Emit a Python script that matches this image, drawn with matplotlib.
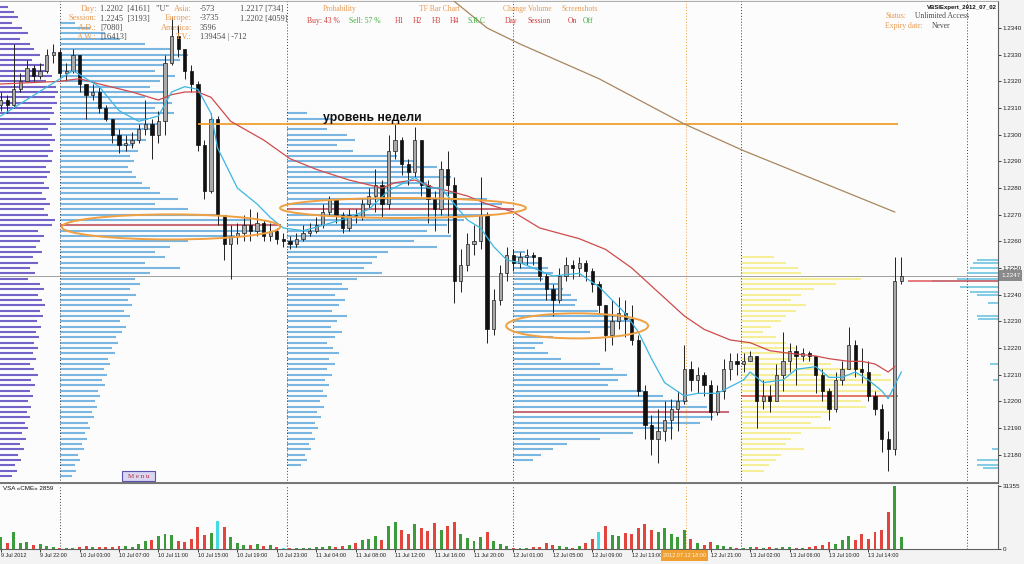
import matplotlib.pyplot as plt
import numpy as np
from matplotlib.patches import Ellipse, Rectangle

plt.rcParams['font.family'] = ['Liberation Sans', 'DejaVu Sans']

W, H = 1024, 564
BW = 6.574  # screen px per bar

# EURUSD candles (open = previous close)
first_open = 1.2311
closes = [1.2313, 1.2311, 1.2317, 1.2320, 1.2325, 1.2322, 1.2324, 1.2330, 1.2331, 1.2323,
          1.2324, 1.2330, 1.2319, 1.2315, 1.2316, 1.2310, 1.2306, 1.2300, 1.2296, 1.2297,
          1.2298, 1.2302, 1.2304, 1.2300, 1.2305, 1.2327, 1.2337, 1.2332, 1.2324, 1.2319,
          1.2296, 1.2279, 1.2306, 1.2270, 1.2259, 1.2262, 1.2263, 1.2266, 1.2264, 1.2267,
          1.2262, 1.2264, 1.2261, 1.2260, 1.2259, 1.2261, 1.2263, 1.2264, 1.2266, 1.2271,
          1.2276, 1.2270, 1.2265, 1.2270, 1.2269, 1.2274, 1.2277, 1.2281, 1.2274, 1.2294,
          1.2298, 1.2289, 1.2286, 1.2298, 1.2281, 1.2276, 1.2272, 1.2287, 1.2281, 1.2245,
          1.2251, 1.2259, 1.2260, 1.2270, 1.2227, 1.2238, 1.2248, 1.2255, 1.2252, 1.2254,
          1.2255, 1.2254, 1.2247, 1.2242, 1.2238, 1.2247, 1.2251, 1.2250, 1.2252, 1.2249,
          1.2244, 1.2236, 1.2225, 1.2230, 1.2233, 1.2231, 1.2223, 1.2204, 1.2191, 1.2186,
          1.2189, 1.2193, 1.2197, 1.2200, 1.2212, 1.2208, 1.2210, 1.2206, 1.2196, 1.2204,
          1.2212, 1.2215, 1.2214, 1.2215, 1.2217, 1.2200, 1.2202, 1.2200, 1.2210, 1.2215,
          1.2219, 1.2217, 1.2218, 1.2217, 1.2210, 1.2204, 1.2197, 1.2208, 1.2212, 1.2221,
          1.2212, 1.2211, 1.2202, 1.2197, 1.2186, 1.2182, 1.2245, 1.2247]
highs = [1.2316, 1.2315, 1.2334, 1.2323, 1.2328, 1.2326, 1.2327, 1.2332, 1.2334, 1.2332,
         1.2327, 1.2332, 1.2330, 1.2319, 1.2319, 1.2318, 1.2311, 1.2306, 1.2302, 1.2300,
         1.2301, 1.2304, 1.2313, 1.2306, 1.2309, 1.2330, 1.2344, 1.2341, 1.2332, 1.2326,
         1.2320, 1.2298, 1.2308, 1.2307, 1.2270, 1.2266, 1.2267, 1.2270, 1.2272, 1.2271,
         1.2268, 1.2267, 1.2265, 1.2263, 1.2262, 1.2263, 1.2266, 1.2267, 1.2269, 1.2274,
         1.2277, 1.2276, 1.2271, 1.2272, 1.2272, 1.2276, 1.2280, 1.2287, 1.2283, 1.2300,
         1.2304, 1.2299, 1.2291, 1.2303, 1.2298, 1.2283, 1.2279, 1.2290, 1.2294, 1.2284,
         1.2257, 1.2263, 1.2266, 1.2284, 1.2271, 1.2242, 1.2251, 1.2258, 1.2257, 1.2256,
         1.2257, 1.2256, 1.2254, 1.2248, 1.2244, 1.2250, 1.2254, 1.2253, 1.2254, 1.2253,
         1.2250, 1.2245, 1.2236, 1.2238, 1.2239, 1.2238, 1.2236, 1.2225, 1.2206, 1.2195,
         1.2197, 1.2200, 1.2201, 1.2204, 1.2221, 1.2215, 1.2213, 1.2211, 1.2208, 1.2206,
         1.2216, 1.2218, 1.2218, 1.2218, 1.2219, 1.2217, 1.2208, 1.2206, 1.2214, 1.2226,
         1.2222, 1.2221, 1.2220, 1.2219, 1.2217, 1.2212, 1.2205, 1.2211, 1.2215, 1.2228,
         1.2223, 1.2220, 1.2215, 1.2204, 1.2199, 1.2189, 1.2254, 1.2254]
lows = [1.2309, 1.2308, 1.2310, 1.2316, 1.2320, 1.2320, 1.2321, 1.2323, 1.2327, 1.2321,
        1.2320, 1.2323, 1.2316, 1.2306, 1.2313, 1.2308, 1.2305, 1.2297, 1.2293, 1.2294,
        1.2295, 1.2297, 1.2300, 1.2291, 1.2297, 1.2300, 1.2326, 1.2329, 1.2321, 1.2316,
        1.2294, 1.2276, 1.2278, 1.2266, 1.2253, 1.2246, 1.2259, 1.2260, 1.2260, 1.2262,
        1.2260, 1.2260, 1.2259, 1.2258, 1.2257, 1.2258, 1.2260, 1.2262, 1.2263, 1.2265,
        1.2270, 1.2267, 1.2263, 1.2264, 1.2267, 1.2268, 1.2272, 1.2271, 1.2269, 1.2272,
        1.2291, 1.2285, 1.2281, 1.2284, 1.2277, 1.2267, 1.2264, 1.2270, 1.2263, 1.2237,
        1.2241, 1.2249, 1.2255, 1.2257, 1.2222, 1.2225, 1.2236, 1.2245, 1.2249, 1.2250,
        1.2251, 1.2251, 1.2245, 1.2238, 1.2232, 1.2237, 1.2245, 1.2246, 1.2247, 1.2245,
        1.2241, 1.2233, 1.2219, 1.2221, 1.2227, 1.2224, 1.2221, 1.2202, 1.2186, 1.2180,
        1.2177, 1.2185, 1.2186, 1.2189, 1.2199, 1.2204, 1.2203, 1.2202, 1.2193, 1.2195,
        1.2201, 1.2208, 1.2210, 1.2211, 1.2215, 1.2190, 1.2197, 1.2196, 1.2202, 1.2204,
        1.2211, 1.2206, 1.2215, 1.2215, 1.2203, 1.2200, 1.2193, 1.2196, 1.2206, 1.2212,
        1.2209, 1.2207, 1.2200, 1.2195, 1.2181, 1.2174, 1.2180, 1.2244]
volumes = [5750, 3100, 8400, 3200, 3700, 2100, 2600, 1600, 1000, 500,
           600, 400, 1100, 1500, 900, 1200, 1000, 1100, 1300, 1600,
           1200, 2500, 4200, 4700, 6300, 7300, 6800, 4100, 3600, 4800,
           11000, 7200, 7800, 14100, 10900, 6200, 3100, 2200, 2000, 2700,
           1500, 2100, 1000, 500, 600, 400, 700, 500, 900, 1200,
           1600, 1100, 1300, 2000, 3000, 4300, 5200, 6400, 4600, 11500,
           13600, 9400, 7300, 12500, 10400, 8900, 13100, 9300, 11600, 13500,
           7400, 5300, 4100, 6200, 8400, 4200, 2600, 1500, 600, 500,
           700, 900, 1200, 3200, 2100, 1500, 1100, 700, 1400, 3100,
           5200, 8300, 11400, 7200, 6300, 8200, 7400, 10500, 12600, 9500,
           8300, 10300, 7300, 6200, 9400, 5100, 3100, 2200, 3600, 2000,
           1600, 1000, 600, 500, 900, 1200, 700, 1000, 600, 1100,
           900, 600, 500, 1000, 1500, 2200, 3700, 2600, 4300, 6300,
           4600, 7400, 5200, 8500, 9600, 18300, 31355, 6100]
cyan_bars = [33, 43, 91]

# moving averages read at sample bars
ma_fast_x = [0, 11, 15, 18, 21, 24, 26, 28, 30, 32, 33, 36, 39, 41, 43, 46, 49, 53, 56, 59,
             63, 65, 67, 69, 71, 73, 75, 77, 79, 84, 88, 91, 95, 97, 99, 101, 104, 106, 109, 113,
             114, 116, 119, 121, 124, 126, 128, 130, 132, 134, 135, 137]
ma_fast = [1.2307, 1.2324, 1.2318, 1.2309, 1.2305, 1.2307, 1.2316, 1.2318, 1.2317, 1.2308,
           1.2295, 1.2280, 1.2274, 1.2269, 1.2265, 1.2264, 1.2266, 1.2269, 1.2272, 1.2279,
           1.2284, 1.2280, 1.2280, 1.2274, 1.2268, 1.2265, 1.2258, 1.2253, 1.2252, 1.2247,
           1.2248, 1.2243, 1.2233, 1.2226, 1.2216, 1.2207, 1.2202, 1.2203, 1.2203, 1.2208,
           1.2211, 1.2207, 1.2208, 1.2212, 1.2213, 1.2209, 1.2209, 1.2211, 1.2208, 1.2204,
           1.2201, 1.2211]
ma_mid_x = [0, 9, 12, 15, 20, 24, 26, 28, 30, 32, 35, 40, 44, 48, 53, 58, 60, 63, 66, 68,
            71, 74, 78, 82, 88, 92, 96, 100, 104, 107, 111, 114, 117, 120, 124, 126, 129, 131, 133, 135,
            136]
ma_mid = [1.2319, 1.2320, 1.2321, 1.2319, 1.2316, 1.2313, 1.2315, 1.2316, 1.2316, 1.2314,
          1.2305, 1.2298, 1.2291, 1.2287, 1.2283, 1.2280, 1.2282, 1.2283, 1.2280, 1.2279,
          1.2277, 1.2274, 1.2271, 1.2265, 1.2261, 1.2257, 1.2250, 1.2241, 1.2232, 1.2227,
          1.2223, 1.2222, 1.2219, 1.2218, 1.2217, 1.2216, 1.2215, 1.2215, 1.2214, 1.2211,
          1.2213]
ma_slow_x = [68, 74, 79, 91, 104, 113, 122, 131, 136]
ma_slow = [1.2352, 1.2340, 1.2334, 1.2321, 1.2304, 1.2294, 1.2285, 1.2276, 1.2271]

# market profiles, 2-pip rows from the top price down, lengths in screen px
prof_9jul_top = 1.2348
prof_9jul = [8, 14, 18, 12, 22, 28, 20, 30, 34, 40, 32, 44, 48, 52, 46, 56, 58, 55, 57, 52,
             54, 50, 56, 48, 52, 55, 50, 53, 48, 52, 46, 50, 47, 44, 49, 42, 46, 50, 44, 48,
             55, 52, 38, 44, 40, 36, 42, 33, 38, 30, 35, 28, 40, 44, 38, 42, 45, 40, 43, 37,
             41, 36, 39, 34, 38, 33, 36, 30, 34, 38, 31, 35, 30, 33, 28, 31, 27, 30, 25, 28,
             22, 26, 20, 24, 18, 21, 15, 17, 12]
prof_10jul_top = 1.2342
prof_10jul = [15, 30, 45, 60, 85, 110, 128, 120, 105, 95, 115, 100, 90, 108, 85, 112, 95, 114, 88, 100,
              92, 80, 86, 74, 78, 70, 74, 68, 72, 76, 82, 90, 100, 118, 95, 128, 160, 190, 221, 205,
              175, 128, 110, 95, 105, 85, 120, 90, 75, 80, 70, 76, 68, 72, 64, 70, 60, 66, 62, 56,
              58, 52, 55, 48, 50, 44, 47, 42, 45, 38, 40, 35, 37, 32, 34, 28, 30, 25, 27, 22,
              24, 18, 20, 15, 16, 12]
prof_11jul_top = 1.2308
prof_11jul = [20, 45, 57, 40, 60, 68, 50, 66, 110, 130, 150, 125, 164, 140, 155, 170, 200, 215, 227, 205,
              177, 160, 140, 164, 127, 150, 101, 90, 85, 77, 95, 70, 55, 61, 48, 58, 52, 45, 60, 50,
              44, 55, 48, 40, 46, 52, 42, 48, 40, 45, 38, 42, 36, 40, 33, 37, 30, 34, 28, 31,
              25, 28, 22, 24, 18, 20, 14]
prof_12jul_top = 1.2256
prof_12jul = [12, 20, 28, 35, 40, 30, 45, 50, 58, 64, 62, 85, 110, 120, 100, 77, 40, 30, 22, 35,
              48, 87, 100, 114, 105, 95, 130, 150, 175, 194, 216, 200, 187, 160, 120, 87, 54, 40, 28, 20]
prof_13jul_top = 1.2254
prof_13jul = [33, 45, 57, 60, 120, 95, 73, 60, 50, 65, 55, 45, 40, 30, 22, 35, 45, 57, 50, 70,
              90, 120, 140, 150, 135, 140, 157, 120, 125, 90, 80, 70, 90, 60, 50, 45, 63, 40, 35, 28, 23]
prof_now_lv = [1.2253, 1.2252, 1.2250, 1.2248, 1.2246, 1.2245, 1.2243, 1.2241, 1.2240, 1.2237,
               1.2232, 1.2231, 1.2214, 1.2208, 1.2182, 1.2178, 1.2176, 1.2175]
prof_now = [21, 25, 28, 30, 41, 66, 38, 28, 21, 10, 21, 20, 8, 5, 6, 21, 21, 15]

week_level = 1.2304
current_price = 1.2247
price_ticks = [1.2340, 1.2330, 1.2320, 1.2310, 1.2300, 1.2290, 1.2280, 1.2270, 1.2260,
               1.2250, 1.2240, 1.2230, 1.2220, 1.2210, 1.2200, 1.2190, 1.2180]
time_bars = [0, 6, 12, 18, 24, 30, 36, 42, 48, 54, 60, 66, 72, 78, 84, 90, 96, 108, 114, 120, 126, 132]
time_labels = ['9 Jul 2012', '9 Jul 22:00', '10 Jul 03:00', '10 Jul 07:00', '10 Jul 11:00',
               '10 Jul 15:00', '10 Jul 19:00', '10 Jul 23:00', '11 Jul 04:00', '11 Jul 08:00',
               '11 Jul 12:00', '11 Jul 16:00', '11 Jul 20:00', '12 Jul 01:00', '12 Jul 05:00',
               '12 Jul 09:00', '12 Jul 13:00', '12 Jul 21:00', '13 Jul 02:00', '13 Jul 06:00',
               '13 Jul 10:00', '13 Jul 14:00']
day_starts = [9, 43.5, 78, 112.6, 147]
marker_bar = 104.3


def fx(x):
    return x / W


def fy(y):
    return 1 - y / H


fig = plt.figure(figsize=(W / 100, H / 100), dpi=100, facecolor='#f3f3f3')
ax = fig.add_axes([0, fy(483), fx(998), 482 / H], facecolor='#fcfcfc')
axv = fig.add_axes([0, fy(549), fx(998), 64 / H], facecolor='#fcfcfc', sharex=ax)
xr = 998 / BW - 0.1
ax.set_xlim(-0.1, xr)
ax.set_ylim(1.23505 - 0.0000375 * 483, 1.23505 - 0.0000375 * 1)
axv.set_ylim(0, 31853)

# profiles
def profile(top, lens, x0, color, poc=True):
    lv = top - 0.0002 * np.arange(len(lens))
    w = np.array(lens) / BW
    ax.hlines(lv, x0, x0 + w, color=color, lw=1.5, zorder=1)
    if poc:
        k = int(np.argmax(w))
        ax.hlines(lv[k], x0, x0 + w[k], color='#e0585a', lw=1.1, zorder=2)

profile(prof_9jul_top, prof_9jul, -0.1, '#7264c8', poc=False)
profile(prof_10jul_top, prof_10jul, day_starts[0], '#7ab6e2')
profile(prof_11jul_top, prof_11jul, day_starts[1], '#7ab6e2')
profile(prof_12jul_top, prof_12jul, day_starts[2], '#7ab6e2')
profile(prof_13jul_top, prof_13jul, day_starts[3], '#f6ee98')
wn = np.array(prof_now) / BW
ax.hlines(prof_now_lv, xr - wn, xr, color='#62bede', lw=1.1, zorder=1)
ax.hlines(prof_now_lv[int(np.argmax(wn))], 138, xr, color='#e0585a', lw=1.1, zorder=2)

for d in day_starts:
    ax.axvline(d, color='#404040', ls=(0, (1, 2)), lw=0.7, zorder=2)
    axv.axvline(d, color='#404040', ls=(0, (1, 2)), lw=0.7, zorder=2)
ax.axvline(marker_bar, color='#f0a040', ls=(0, (1, 2)), lw=0.7, zorder=2)
axv.axvline(marker_bar, color='#f0a040', ls=(0, (1, 2)), lw=0.7, zorder=2)

ax.axhline(current_price, color='#a0a0a0', lw=0.7, zorder=3)
ax.hlines(week_level, 30, 136.5, color='#f0a030', lw=1.3, zorder=6)
ax.text(49.0, 1.23052, 'уровень недели', fontsize=8.8, fontweight='bold', color='#111111',
        va='baseline', zorder=8)

# candles
n = len(closes)
x = np.arange(n)
o = np.array([first_open] + closes[:-1])
c = np.array(closes)
up = c >= o
lo = np.minimum(o, c)
hb = np.maximum(np.abs(c - o), 0.00004)
ax.vlines(x, lows, highs, color='#202020', lw=0.7, zorder=4)
ax.bar(x[up], hb[up], bottom=lo[up], width=0.5, color='#a9a9a9', edgecolor='#202020', lw=0.5, zorder=5)
ax.bar(x[~up], hb[~up], bottom=lo[~up], width=0.5, color='#111111', edgecolor='#111111', lw=0.5, zorder=5)

ax.plot(ma_slow_x, ma_slow, color='#a8865f', lw=0.9, zorder=6)
ax.plot(ma_mid_x, ma_mid, color='#cf4b4b', lw=0.9, zorder=6)
ax.plot(ma_fast_x, ma_fast, color='#3cb6e2', lw=0.9, zorder=6)

for cx, cy, ew, eh in [(25.9, 1.22654, 33.2, 0.00094), (61.2, 1.22725, 37.4, 0.00075),
                       (87.7, 1.22283, 21.6, 0.00094)]:
    ax.add_patch(Ellipse((cx, cy), ew, eh, fill=False, edgecolor='#f0a040', lw=1.4, zorder=7))

# volumes
vcol = ['#3c9c3c' if u else '#e2443e' for u in up]
for i in cyan_bars:
    vcol[i] = '#44dce4'
axv.bar(x, volumes, width=0.45, color=vcol, lw=0, zorder=3)
axv.text(0.3, 30200, 'VSA «CME» 2859', fontsize=4.5, va='center', color='#111111')

# axes styling
for a in (ax, axv):
    a.spines['left'].set_visible(False)
    a.spines['right'].set_color('#606060')
    a.spines['right'].set_linewidth(0.8)
    a.yaxis.tick_right()
ax.spines['top'].set_color('#a0a0a0')
ax.spines['top'].set_linewidth(0.6)
ax.spines['bottom'].set_color('#6a6a6a')
ax.spines['bottom'].set_linewidth(1.3)
axv.spines['top'].set_visible(False)
axv.spines['bottom'].set_color('#606060')
axv.spines['bottom'].set_linewidth(0.8)

ax.set_yticks(price_ticks)
ax.set_yticklabels([f'{p:.4f}' for p in price_ticks])
ax.tick_params(axis='y', labelsize=4.5, length=2, pad=1.5, colors='#222222', width=0.6)
ax.tick_params(axis='x', bottom=False, labelbottom=False)
axv.set_yticks([0, 31355])
axv.set_yticklabels(['0', '31355'])
axv.tick_params(axis='y', labelsize=4.5, length=2, pad=1.5, colors='#222222', width=0.6)
axv.set_xticks(time_bars)
axv.set_xticklabels(time_labels)
axv.tick_params(axis='x', labelsize=4.0, length=2, pad=1.2, colors='#222222', width=0.6)
for lab in axv.get_xticklabels():
    lab.set_ha('left')

# price / time markers on the scales
fig.add_artist(Rectangle((fx(999), fy(281)), 23 / W, 11 / H, transform=fig.transFigure,
                         facecolor='#8a8a8a', edgecolor='none'))
fig.text(fx(1001), fy(275.5), '1.2247', fontsize=4.5, color='white', va='center')
fig.add_artist(Rectangle((fx(661), fy(561)), 47 / W, 11 / H, transform=fig.transFigure,
                         facecolor='#f0a030', edgecolor='none'))
fig.text(fx(684.5), fy(555.5), '2012.07.12 18:00', fontsize=4.0, color='#fff4dc', ha='center', va='center')

# menu button
fig.add_artist(Rectangle((fx(122), fy(481)), 33 / W, 10 / H, transform=fig.transFigure,
                         facecolor='#dad5f2', edgecolor='#5a55aa', lw=0.8))
fig.text(fx(138.5), fy(476), 'M e n u', fontsize=5, family='Liberation Serif', color='#b03030',
         ha='center', va='center')

# info panel text
orange, dark, tred, tgreen = '#e89a52', '#4a4a4a', '#d23c3c', '#3fae3f'
serif = dict(family='Liberation Serif', fontsize=6, va='center')
rows = [(9, 'Day:', '1.2202  [4161]   "U"', 'Asia:', '-573', '1.2217 [734]'),
        (18.5, 'Session:', '1.2245  [3193]', 'Europe:', '-3735', '1.2202 [4059]'),
        (28, 'A.D.:', '[7080]', 'America:', '3596', ''),
        (37, 'A.W.:', '[16413]', 'T.V.:', '139454 | -712', '')]
for y, k1, v1, k2, v2, v3 in rows:
    fig.text(fx(97), fy(y), k1, ha='right', color=orange, **serif)
    fig.text(fx(100), fy(y), v1, color=dark, **serif)
    fig.text(fx(192), fy(y), k2, ha='right', color=orange, **serif)
    fig.text(fx(200), fy(y), v2, color=dark, **serif)
    fig.text(fx(240), fy(y), v3, color=dark, **serif)

small = dict(family='Liberation Serif', fontsize=5.5, va='center')
fig.text(fx(340), fy(9), 'Probability', ha='center', color=orange, **small)
fig.text(fx(307), fy(21), 'Buy: 43 %', color=tred, **small)
fig.text(fx(349), fy(21), 'Sell: 57 %', color=tgreen, **small)
fig.text(fx(439), fy(9), 'TF Bar Chart', ha='center', color=orange, **small)
for xx, t in [(395, 'H1'), (413, 'H2'), (432, 'H3'), (450, 'H4')]:
    fig.text(fx(xx), fy(21), t, color=tred, **small)
fig.text(fx(468), fy(21), 'S.R.C', color=tgreen, **small)
fig.text(fx(527), fy(9), 'Change Volume', ha='center', color=orange, **small)
fig.text(fx(505), fy(21), 'Day', color=tred, **small)
fig.text(fx(528), fy(21), 'Session', color=tred, **small)
fig.text(fx(580), fy(9), 'Screenshots', ha='center', color=orange, **small)
fig.text(fx(568), fy(21), 'On', color=tred, **small)
fig.text(fx(583), fy(21), 'Off', color=tgreen, **small)

fig.text(fx(927), fy(7), 'VBSIExpert_2012_07_02', fontsize=4.3, fontweight='bold', color='#111111', va='center')
fig.text(fx(885), fy(15.5), 'Status:', color=orange, **small)
fig.text(fx(915), fy(15.5), 'Unlimited Access', color=dark, **small)
fig.text(fx(885), fy(25.5), 'Expiry date:', color=orange, **small)
fig.text(fx(932), fy(25.5), 'Never', color=dark, **small)

fig.savefig('out.png', dpi=100, facecolor=fig.get_facecolor())
